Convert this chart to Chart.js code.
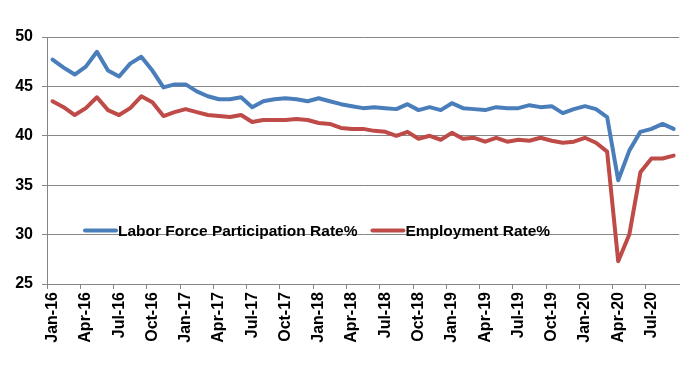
<!DOCTYPE html>
<html>
<head>
<meta charset="utf-8">
<script src="https://cdn.jsdelivr.net/npm/chart.js@4"></script>
<style>
  html, body { margin: 0; padding: 0; background: #fff; }
  #wrap { width: 696px; height: 377px; }
</style>
</head>
<body>
<div id="wrap"><canvas id="ratechart" width="696" height="377"></canvas></div>
<script>
// monthly, Jan-16 .. Sep-20
var months = ['Jan','Feb','Mar','Apr','May','Jun','Jul','Aug','Sep','Oct','Nov','Dec']
var years = ['16','17','18','19','20']
var labels = []
for (var y of years) {
  for (var m of months) {
    labels.push(m + '-' + y)
  }
}
labels = labels.slice(0, 57)

var participation = [
  47.7, 46.9, 46.2, 47.0, 48.5, 46.6, 46.0, 47.3, 48.0, 46.6, 44.9, 45.2,
  45.2, 44.5, 44.0, 43.7, 43.7, 43.9, 42.9, 43.5, 43.7, 43.8, 43.7, 43.5,
  43.8, 43.5, 43.2, 43.0, 42.8, 42.9, 42.8, 42.7, 43.2, 42.6, 42.9, 42.6,
  43.3, 42.8, 42.7, 42.6, 42.9, 42.8, 42.8, 43.1, 42.9, 43.0, 42.3, 42.7,
  43.0, 42.7, 41.9, 35.5, 38.5, 40.4, 40.7, 41.2, 40.7
]
var employment = [
  43.5, 42.9, 42.1, 42.8, 43.9, 42.6, 42.1, 42.8, 44.0, 43.4, 42.0, 42.4,
  42.7, 42.4, 42.1, 42.0, 41.9, 42.1, 41.4, 41.6, 41.6, 41.6, 41.7, 41.6,
  41.3, 41.2, 40.8, 40.7, 40.7, 40.5, 40.4, 40.0, 40.4, 39.7, 40.0, 39.6,
  40.3, 39.7, 39.8, 39.4, 39.8, 39.4, 39.6, 39.5, 39.8, 39.5, 39.3, 39.4,
  39.8, 39.3, 38.4, 27.3, 30.0, 36.3, 37.7, 37.7, 38.0
]
var seriesNames = ['Labor Force Participation Rate%', 'Employment Rate%']
var yTicks = [25, 30, 35, 40, 45, 50]

var axisGray = '#868686'
var tickFont = { family: '"Liberation Sans", Arial, sans-serif', size: 16, weight: 'bold' }

// legend sits inside the plot, like the excel original
var insideLegend = {
  id: 'insideLegend',
  afterDraw(chart) {
    var ctx = chart.ctx
    var x = 85
    var yy = 230.5
    ctx.save()
    ctx.font = 'bold 15.5px "Liberation Sans", Arial, sans-serif'
    ctx.textBaseline = 'middle'
    ctx.textAlign = 'left'
    chart.data.datasets.forEach(function(ds) {
      ctx.strokeStyle = ds.borderColor
      ctx.lineWidth = 4
      ctx.lineCap = 'round'
      ctx.beginPath()
      ctx.moveTo(x, yy)
      ctx.lineTo(x + 31, yy)
      ctx.stroke()
      x += 33
      ctx.fillStyle = '#000'
      ctx.fillText(ds.label, x, yy + 1)
      x += ctx.measureText(ds.label).width + 15
    })
    ctx.restore()
  }
}

var ctx = document.getElementById('ratechart')
var rateChart = new Chart(ctx, {
  type: 'line',
  data: {
    labels: labels,
    datasets: [{
      label: seriesNames[0],
      data: participation,
      borderColor: '#4A7EBB',
      borderWidth: 4,
      pointRadius: 0,
      tension: 0,
      borderJoinStyle: 'round',
      borderCapStyle: 'round'
    }, {
      label: seriesNames[1],
      data: employment,
      borderColor: '#BE4B48',
      borderWidth: 4,
      pointRadius: 0,
      tension: 0,
      borderJoinStyle: 'round',
      borderCapStyle: 'round'
    }]
  },
  options: {
    responsive: false,
    animation: false,
    layout: { padding: { left: 0, right: 15, top: 37, bottom: 0 } },
    plugins: {
      legend: { display: false },
      tooltip: { enabled: false }
    },
    scales: {
      x: {
        type: 'category',
        offset: true,
        grid: {
          offset: true,
          drawOnChartArea: false,
          drawTicks: true,
          tickLength: 5,
          lineWidth: 1,
          color: function(c) { return c.index % 3 == 0 ? axisGray : 'rgba(0,0,0,0)' }
        },
        border: { color: axisGray, width: 1 },
        ticks: {
          autoSkip: false,
          minRotation: 90,
          maxRotation: 90,
          padding: 3,
          color: '#000',
          font: tickFont,
          callback: function(v, i) { return i % 3 == 0 ? labels[i] : '' }
        },
        afterFit: function(s) { s.height = 93 }
      },
      y: {
        min: 25,
        max: 50,
        afterBuildTicks: function(s) { s.ticks = yTicks.map(function(v) { return { value: v } }) },
        grid: { color: axisGray, lineWidth: 1, drawTicks: true, tickLength: 5 },
        border: { color: axisGray, width: 1 },
        ticks: { color: '#000', font: tickFont, padding: 9 },
        afterFit: function(s) { s.width = 47 }
      }
    }
  },
  plugins: [insideLegend]
})
</script>
</body>
</html>
